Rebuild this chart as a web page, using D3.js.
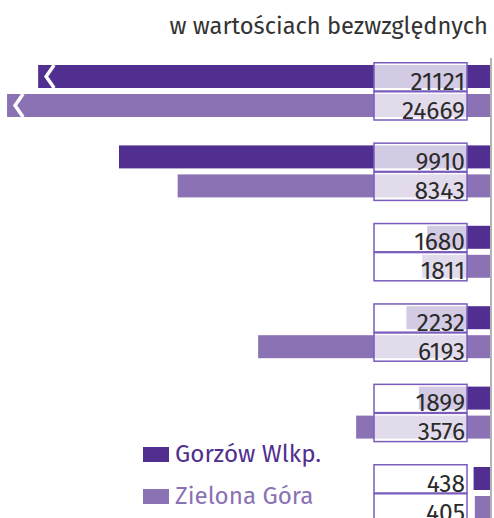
<!DOCTYPE html>
<html>
<head>
<meta charset="utf-8">
<script src="https://cdn.jsdelivr.net/npm/d3@7"></script>
<style>
  body { margin: 0; background: #fff; }
  svg { display: block; font-family: 'Fira Sans', 'Noto Sans', sans-serif; }
</style>
</head>
<body>
<div class="chart"></div>
<script>
// data
const groups = ['g1', 'g2', 'g3', 'g4', 'g5', 'g6'];
const seriesNames = ['Gorzów Wlkp.', 'Zielona Góra'];
const gorzow = [21121, 9910, 1680, 2232, 1899, 438];
const zielona = [24669, 8343, 1811, 6193, 3576, 405];
// values beyond the break are drawn cut off at these values
const breakAt = [12070, 12900];
const title = 'w wartościach bezwzględnych';

const width = 494;
const height = 518;
const axisX = 490;

const colors = d3.scaleOrdinal().domain(seriesNames).range(['#512f90', '#8a72b4']);

const svg = d3
  .select('.chart')
  .append('svg')
  .attr('width', width)
  .attr('height', height);

const x = d3.scaleLinear().domain([0, 9910]).range([axisX, 119]);

const y = d3
  .scaleBand()
  .domain(groups)
  .range([62, 62 + groups.length * 80.4])
  .paddingInner(0);

const ySub = d3.scaleBand().domain(seriesNames).range([0, 58]);

const rows = [];
groups.forEach((g, i) => {
  rows.push({ group: g, series: seriesNames[0], value: gorzow[i], sIdx: 0 });
  rows.push({ group: g, series: seriesNames[1], value: zielona[i], sIdx: 1 });
});
rows.forEach((d) => {
  d.cut = d.value > breakAt[d.sIdx];
  d.shown = d.cut ? breakAt[d.sIdx] : d.value;
  d.top = y(d.group) + ySub(d.series);
});

const inset = 3;
const barH = ySub.bandwidth() - inset * 2;

// bars
svg
  .append('g')
  .selectAll('rect')
  .data(rows)
  .join('rect')
  .attr('x', (d) => x(d.shown))
  .attr('y', (d) => d.top + inset)
  .attr('width', (d) => x(0) - x(d.shown))
  .attr('height', barH)
  .attr('fill', (d) => colors(d.series));

// break marks
svg
  .append('g')
  .selectAll('path')
  .data(rows.filter((d) => d.cut))
  .join('path')
  .attr('d', (d) => {
    const x0 = x(d.shown);
    const t = d.top + inset;
    return `M${x0 + 16},${t} L${x0 + 8},${t + barH / 2} L${x0 + 16},${t + barH}`;
  })
  .attr('fill', 'none')
  .attr('stroke', '#fff')
  .attr('stroke-width', 3.5);

// axis line
svg
  .append('line')
  .attr('x1', axisX + 1)
  .attr('x2', axisX + 1)
  .attr('y1', 58)
  .attr('y2', height)
  .attr('stroke', '#9a9a9a')
  .attr('stroke-width', 1.5);

// value boxes
const boxX = 374;
const boxW = 93;
const boxes = svg.append('g').selectAll('g').data(rows).join('g');

boxes
  .append('rect')
  .attr('x', boxX)
  .attr('y', (d) => d.top + 0.75)
  .attr('width', boxW)
  .attr('height', ySub.bandwidth() - 0.75)
  .attr('fill', '#fff')
  .attr('fill-opacity', 0.75)
  .attr('stroke', '#7a5cbd')
  .attr('stroke-width', 1.5);

boxes
  .append('text')
  .attr('x', boxX + boxW - 2)
  .attr('y', (d) => d.top + ySub.bandwidth() - 1.5)
  .attr('text-anchor', 'end')
  .attr('font-size', '24.5px')
  .attr('fill', '#2b2b2b')
  .text((d) => d.value);

// title
svg
  .append('text')
  .attr('x', 488)
  .attr('y', 34)
  .attr('text-anchor', 'end')
  .attr('font-size', '23.7px')
  .attr('fill', '#333')
  .text(title);

// legend
const legend = svg
  .append('g')
  .selectAll('g')
  .data(seriesNames)
  .join('g')
  .attr('transform', (d, i) => `translate(143, ${447 + i * 42})`);

legend
  .append('rect')
  .attr('width', 26)
  .attr('height', 15)
  .attr('fill', (d) => colors(d));

legend
  .append('text')
  .attr('x', 32)
  .attr('y', 15)
  .attr('font-size', '24.2px')
  .attr('fill', (d) => colors(d))
  .text((d) => d);
</script>
</body>
</html>
